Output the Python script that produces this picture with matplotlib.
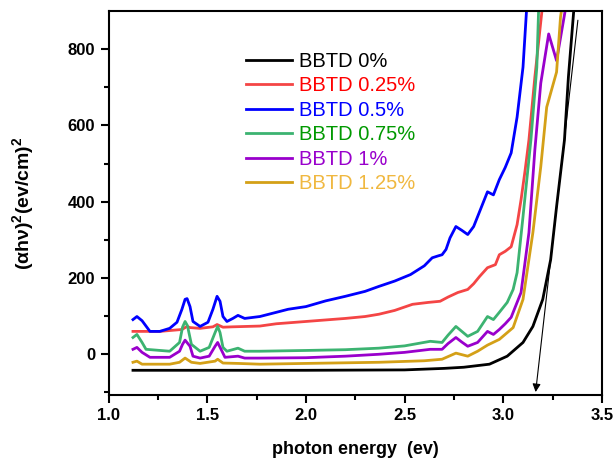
import numpy as np
import matplotlib
matplotlib.use("Agg")
import matplotlib.pyplot as plt

plt.rcParams['font.family'] = ['Liberation Sans', 'DejaVu Sans']
plt.rcParams['mathtext.fontset'] = 'custom'
plt.rcParams['mathtext.rm'] = 'Liberation Sans:bold'
plt.rcParams['mathtext.bf'] = 'Liberation Sans:bold'

# series (photon energy in ev, (ahv)^2 values)
x_0 = [1.124, 1.5, 2.0, 2.5, 2.7, 2.8, 2.93, 3.02, 3.10, 3.15, 3.20, 3.24, 3.27, 3.31, 3.33, 3.36]
y_0 = [-42, -42, -42, -41, -37, -34, -26, -5, 31, 73, 144, 248, 387, 562, 727, 920]

x_025 = [1.124, 1.26, 1.372, 1.398, 1.413, 1.464, 1.529, 1.55, 1.58, 1.63, 1.767, 1.85, 2.0, 2.1, 2.2,
         2.3, 2.37, 2.45, 2.54, 2.62, 2.68, 2.72, 2.77, 2.82, 2.85, 2.88, 2.92, 2.96, 2.98, 3.01, 3.04,
         3.07, 3.09, 3.11, 3.13, 3.16, 3.20]
y_025 = [60, 60, 65, 73, 70, 68, 72, 78, 71, 72, 74, 80, 86, 90, 94,
         99, 105, 115, 131, 136, 139, 150, 162, 170, 185, 204, 227, 235, 261, 270, 282,
         340, 405, 480, 562, 727, 920]

x_05 = [1.124, 1.144, 1.17, 1.21, 1.26, 1.31, 1.347, 1.372, 1.388, 1.398, 1.413, 1.428, 1.464, 1.504,
        1.529, 1.55, 1.565, 1.58, 1.60, 1.63, 1.656, 1.69, 1.767, 1.85, 1.91, 2.0, 2.1, 2.2, 2.3, 2.37,
        2.45, 2.53, 2.6, 2.64, 2.67, 2.69, 2.71, 2.73, 2.76, 2.79, 2.82, 2.85, 2.87, 2.90, 2.92, 2.95,
        2.98, 3.01, 3.04, 3.07, 3.10, 3.12]
y_05 = [91, 99, 88, 60, 60, 68, 84, 118, 144, 146, 125, 86, 73, 84,
        118, 152, 139, 99, 86, 94, 102, 94, 99, 110, 118, 125, 140, 152, 165, 178,
        192, 209, 232, 253, 258, 261, 275, 305, 335, 325, 314, 335, 361, 400, 426, 418,
        458, 490, 528, 622, 753, 920]

x_075 = [1.124, 1.144, 1.17, 1.19, 1.31, 1.36, 1.375, 1.388, 1.40, 1.42, 1.464, 1.51, 1.54, 1.553,
         1.565, 1.58, 1.60, 1.656, 1.69, 1.767, 2.0, 2.2, 2.37, 2.5, 2.63, 2.69, 2.72, 2.76, 2.79,
         2.82, 2.87, 2.92, 2.95, 2.98, 3.02, 3.05, 3.07, 3.10, 3.14, 3.17, 3.18]
y_075 = [44, 52, 31, 13, 8, 31, 71, 86, 75, 26, 8, 18, 57, 73,
         57, 18, 8, 16, 8, 8, 10, 12, 16, 22, 34, 31, 50, 73, 60,
         47, 60, 99, 91, 110, 136, 170, 214, 361, 562, 753, 920]

x_1 = [1.124, 1.144, 1.17, 1.21, 1.31, 1.36, 1.375, 1.388, 1.413, 1.428, 1.464, 1.51, 1.54, 1.553,
       1.575, 1.59, 1.656, 1.69, 1.767, 2.0, 2.2, 2.37, 2.5, 2.63, 2.69, 2.72, 2.76, 2.79, 2.82,
       2.87, 2.92, 2.95, 2.98, 3.01, 3.04, 3.09, 3.13, 3.16, 3.19, 3.23, 3.27, 3.32]
y_1 = [13, 18, 5, -8, -8, 8, 26, 37, 21, -5, -10, -5, 21, 31,
       8, -8, -5, -10, -10, -9, -5, 0, 5, 13, 13, 28, 44, 32, 21,
       31, 60, 52, 65, 80, 97, 162, 319, 536, 711, 840, 770, 920]

x_125 = [1.124, 1.144, 1.17, 1.31, 1.36, 1.388, 1.42, 1.464, 1.54, 1.553, 1.58, 1.656, 1.767, 2.0,
         2.37, 2.6, 2.69, 2.76, 2.82, 2.87, 2.92, 2.98, 3.05, 3.10, 3.15, 3.19, 3.22, 3.27, 3.29, 3.30]
y_125 = [-21, -18, -26, -26, -21, -10, -21, -24, -18, -13, -23, -24, -26, -24,
         -21, -17, -13, 3, -5, 8, 24, 39, 70, 144, 319, 492, 648, 740, 884, 920]

labels = ['BBTD 0%', 'BBTD 0.25%', 'BBTD 0.5%', 'BBTD 0.75%', 'BBTD 1%', 'BBTD 1.25%']
line_colors = ['#000000', '#f44545', '#0000ff', '#3cb371', '#9900cc', '#d4a017']
text_colors = ['#000000', '#ff0000', '#0000ff', '#009900', '#9900cc', '#f0b840']

# tangent line used for the band gap
tangent_start = (3.378, 876)
tangent_end = (3.164, -99)

fig = plt.figure(figsize=(6.13, 4.61), dpi=100)
ax = fig.add_axes([0.177, 0.143, 0.805, 0.833])

series = [(x_0, y_0), (x_025, y_025), (x_05, y_05), (x_075, y_075), (x_1, y_1), (x_125, y_125)]
for (xs, ys), lab, c in zip(series, labels, line_colors):
    ax.plot(xs, ys, color=c, lw=2.0, label=lab, solid_joinstyle='round')

ax.annotate('', xy=tangent_end, xytext=tangent_start,
            arrowprops=dict(arrowstyle='-|>', lw=0.8, color='k', mutation_scale=12,
                            shrinkA=0, shrinkB=0))

ax.set_xlim(1.0, 3.5)
ax.set_ylim(-107, 900)
ax.set_xticks([1.0, 1.5, 2.0, 2.5, 3.0, 3.5])
ax.set_xticks(np.arange(1.25, 3.5, 0.5), minor=True)
ax.set_yticks([0, 200, 400, 600, 800])
ax.set_yticks([-100, 100, 300, 500, 700], minor=True)
ax.tick_params(which='major', direction='out', length=6, width=1.5, labelsize=12)
ax.tick_params(which='minor', direction='out', length=3.5, width=1.5)
for lab in ax.get_xticklabels() + ax.get_yticklabels():
    lab.set_fontweight('bold')
for s in ax.spines.values():
    s.set_linewidth(1.5)

ax.set_xlabel('photon energy  (ev)', fontsize=13, fontweight='bold', labelpad=13)
ax.set_ylabel('(αhν)$^{2}$(ev/cm)$^{2}$', fontsize=14, fontweight='bold', labelpad=22)

leg = ax.legend(loc='upper left', bbox_to_anchor=(0.25, 0.93), frameon=False, fontsize=14.5,
                handlelength=2.3, handletextpad=0.35, labelspacing=0.27, borderpad=0.2)
for t, c in zip(leg.get_texts(), text_colors):
    t.set_color(c)

fig.savefig('out.png', dpi=100)
